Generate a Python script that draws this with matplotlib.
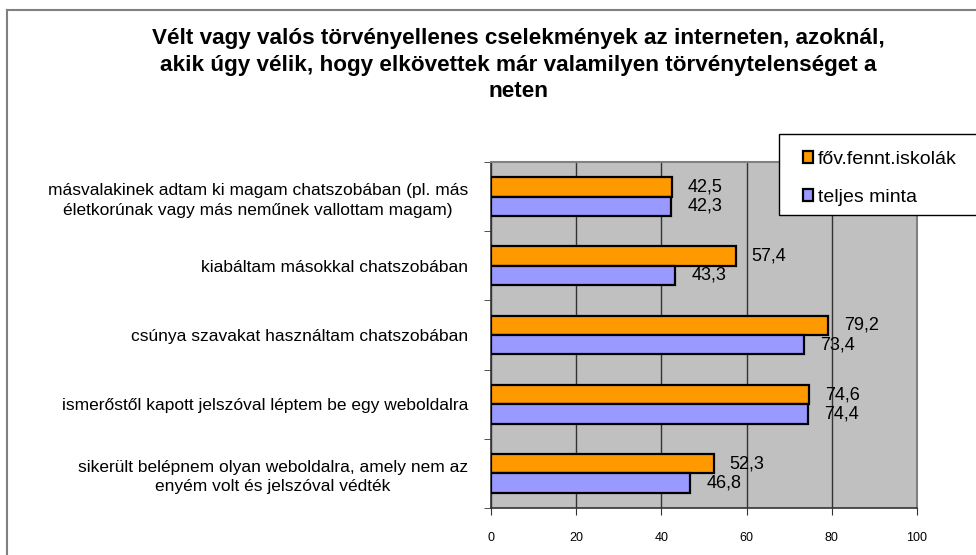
import matplotlib
matplotlib.use('Agg')
import matplotlib.pyplot as plt
from matplotlib.patches import Patch, Rectangle
from matplotlib.lines import Line2D

plt.rcParams['font.family'] = ['Liberation Sans', 'DejaVu Sans']

categories = [
    'másvalakinek adtam ki magam chatszobában (pl. más\néletkorúnak vagy más neműnek vallottam magam)',
    'kiabáltam másokkal chatszobában',
    'csúnya szavakat használtam chatszobában',
    'ismerőstől kapott jelszóval léptem be egy weboldalra',
    'sikerült belépnem olyan weboldalra, amely nem az\nenyém volt és jelszóval védték',
]
fov_fennt = [42.5, 57.4, 79.2, 74.6, 52.3]
teljes = [42.3, 43.3, 73.4, 74.4, 46.8]
series_names = ['főv.fennt.iskolák', 'teljes minta']
xticks = [0, 20, 40, 60, 80, 100]
title = ('Vélt vagy valós törvényellenes cselekmények az interneten, azoknál,\n'
         'akik úgy vélik, hogy elkövettek már valamilyen törvénytelenséget a\n'
         'neten')

W, H = 976, 555
fig = plt.figure(figsize=(W / 100, H / 100), dpi=100)
ax = fig.add_axes([491 / W, 1 - 508 / H, (917 - 491) / W, (508 - 162) / H])

orange = '#FF9900'
blue = '#9999FF'
h = 0.28
ypos = list(range(len(categories)))

ax.set_facecolor('#C0C0C0')
ax.barh([y - h / 2 for y in ypos], fov_fennt, height=h, color=orange,
        edgecolor='black', linewidth=1.6, zorder=3)
ax.barh([y + h / 2 for y in ypos], teljes, height=h, color=blue,
        edgecolor='black', linewidth=1.6, zorder=3)

# value labels, decimal comma
for y, a, b in zip(ypos, fov_fennt, teljes):
    ax.annotate(f'{a:.1f}'.replace('.', ','), (a, y - h / 2), xytext=(16, 0),
                textcoords='offset pixels', ha='left', va='center', fontsize=13, zorder=5)
    ax.annotate(f'{b:.1f}'.replace('.', ','), (b, y + h / 2), xytext=(16, 0),
                textcoords='offset pixels', ha='left', va='center', fontsize=13, zorder=5)

ax.set_xlim(0, 100)
ax.set_ylim(len(categories) - 0.5, -0.5)
ax.set_xticks(xticks)
ax.set_xticklabels([str(t) for t in xticks], fontsize=9)
ax.tick_params(axis='x', length=5, direction='out', pad=12, color='#333333')
ax.xaxis.grid(True, color='#333333', linewidth=1.0, zorder=1)
ax.set_axisbelow(True)

ax.set_yticks(ypos)
ax.set_yticklabels(categories, fontsize=12.5, linespacing=1.38)
for lbl in ax.get_yticklabels():
    lbl.set_multialignment('center')
ax.set_yticks([y - 0.5 for y in ypos] + [len(categories) - 0.5], minor=True)
ax.tick_params(axis='y', which='major', length=0, pad=16.5)
ax.tick_params(axis='y', which='minor', length=5, direction='out', color='#333333')

for s in ['top', 'right']:
    ax.spines[s].set_color('#808080')
    ax.spines[s].set_linewidth(1.5)
for s in ['left', 'bottom']:
    ax.spines[s].set_color('#333333')
    ax.spines[s].set_linewidth(1.2)

fig.text(518 / W, 1 - 28 / H, title, ha='center', va='top', fontsize=16.2,
         fontweight='bold', linespacing=1.35)

# outer chart frame (right and bottom fall outside the picture)
fig.add_artist(Line2D([7 / W, 7 / W], [0, 1 - 10 / H], color='#808080', linewidth=1.5))
fig.add_artist(Line2D([7 / W, 1], [1 - 10 / H, 1 - 10 / H], color='#808080', linewidth=1.5))

# legend box extending past right edge
fig.add_artist(Rectangle((779 / W, 1 - 215 / H), (990 - 779) / W, (215 - 134) / H,
                         facecolor='white', edgecolor='black', linewidth=1.0,
                         transform=fig.transFigure, zorder=10))
handles = [Patch(facecolor=orange, edgecolor='black', linewidth=1.6),
           Patch(facecolor=blue, edgecolor='black', linewidth=1.6)]
leg = fig.legend(handles, series_names, loc='upper left',
                 bbox_to_anchor=(789 / W, 1 - 137 / H), frameon=False, fontsize=14,
                 handlelength=0.55, handleheight=0.55, handletextpad=0.25,
                 labelspacing=1.1, borderpad=0.2)
leg.set_zorder(11)

fig.savefig('out.png', dpi=100)
